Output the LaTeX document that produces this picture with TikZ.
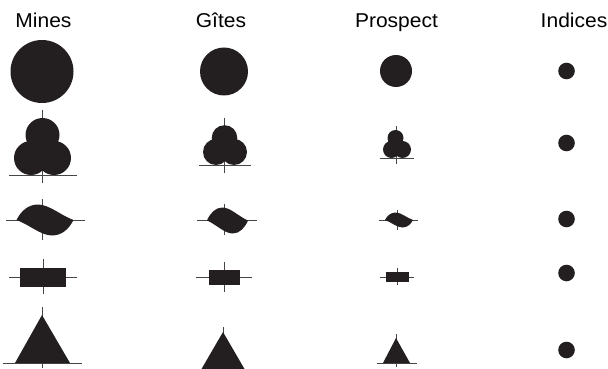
\documentclass[tikz,border=0pt]{standalone}
\usepackage{fontspec}
\setmainfont{Liberation Sans}
\definecolor{ink}{RGB}{35,31,32}
\definecolor{tick}{RGB}{70,70,70}
\tikzset{
  x=1pt,y=-1pt,
  symfill/.style={fill=ink},
  tickline/.style={draw=tick,line width=0.9pt},
  title/.style={font=\fontsize{20}{24}\selectfont,anchor=base,inner sep=0pt,xscale=1.05}
}
\newcommand\lensat[4]{%
  \begin{scope}[shift={(#1,#2)},xscale=#3,yscale=-#4]
    \fill[ink] (-1,0) .. controls (-0.85,0.55) and (-0.6,1) .. (-0.25,1)
                .. controls (0.15,1) and (0.55,0.3) .. (1,0)
                .. controls (0.85,-0.55) and (0.6,-1) .. (0.25,-1)
                .. controls (-0.15,-1) and (-0.55,-0.3) .. (-1,0) -- cycle;
  \end{scope}}
\begin{document}
\begin{tikzpicture}
\useasboundingbox (0,0) rectangle (608,369);
% titles
\node[title] (tmines) at (43.5,27.3) {Mines};
\node[title] (tgites) at (221,27.3) {Gîtes};
\node[title] (tprosp) at (396.5,27.3) {Prospect};
\node[title] (tind) at (574,27.3) {Indices};
% row 1: circles
\fill[symfill] (42,71.5) circle (31.5);
\fill[symfill] (224,71.5) circle (24);
\fill[symfill] (396,71) circle (16);
\fill[symfill] (566.5,71) circle (8.3);
% row 2: trefoils
\draw[tickline] (42,110) -- (42,183);
\draw[tickline] (9,175) -- (77,175);
\fill[symfill] (42.5,135) circle (17) (31,158) circle (17) (54,158) circle (17);
\draw[tickline] (224,118) -- (224,173);
\draw[tickline] (199,165) -- (251,165);
\fill[symfill] (224.5,138) circle (12.8) (216,152) circle (13) (234,152) circle (13);
\draw[tickline] (396,126) -- (396,164);
\draw[tickline] (380,158) -- (414,158);
\fill[symfill] (395.5,138) circle (8) (391.5,149.5) circle (8.5) (402.5,149.5) circle (8.5);
\fill[symfill] (566.5,143) circle (8.3);
% row 3: lenses
\draw[tickline] (6,220) -- (85,220);
\draw[tickline] (42,199) -- (42,240);
\lensat{45}{220}{28.5}{15.5}
\draw[tickline] (197,220.5) -- (257,220.5);
\draw[tickline] (224,204) -- (224,235);
\lensat{227.5}{220.5}{20.5}{13}
\draw[tickline] (379,220) -- (418,220);
\draw[tickline] (397,210) -- (397,230);
\lensat{399}{220}{14}{7.5}
\fill[symfill] (566.5,219) circle (8.3);
% row 4: rectangles
\draw[tickline] (9,277) -- (77,277);
\draw[tickline] (43,259) -- (43,294);
\fill[symfill] (20,268) rectangle (66,287);
\draw[tickline] (196,277) -- (252,277);
\draw[tickline] (224,262) -- (224,292);
\fill[symfill] (209,270) rectangle (240,285);
\draw[tickline] (380,277) -- (414,277);
\draw[tickline] (397,268) -- (397,285);
\fill[symfill] (386,272) rectangle (409,282);
\fill[symfill] (566.5,273) circle (8.3);
% row 5: triangles
\draw[tickline] (3,363) -- (82,363);
\draw[tickline] (42,307) -- (42,368);
\fill[symfill] (42,315) -- (70,363) -- (15,363) -- cycle;
\draw[tickline] (223,327) -- (223,369);
\fill[symfill] (223,332) -- (244.5,369) -- (201.5,369) -- cycle;
\draw[tickline] (377,363) -- (417,363);
\draw[tickline] (396,334) -- (396,367);
\fill[symfill] (396,338) -- (410,363) -- (383,363) -- cycle;
\fill[symfill] (566.5,350) circle (8.3);
\end{tikzpicture}
\end{document}
